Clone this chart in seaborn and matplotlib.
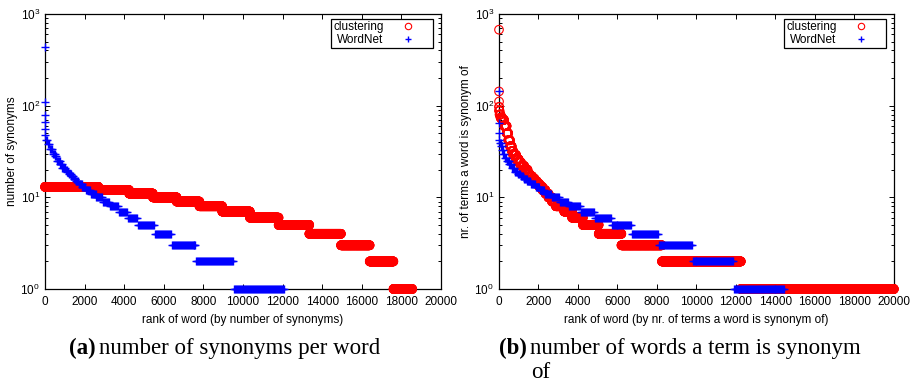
import numpy as np
import pandas as pd
import matplotlib
matplotlib.use("Agg")
import matplotlib.pyplot as plt
import seaborn as sns
from matplotlib.markers import MarkerStyle
from matplotlib.lines import Line2D
from matplotlib.ticker import LogLocator, NullFormatter, FixedLocator

# ---------------- data (value of each run, first rank of each run, end rank) ----
# (a) number of synonyms per word
a_clu_values = [13, 12, 11, 10, 9, 8, 7, 6, 5, 4, 3, 2, 1]
a_clu_starts = [0, 2700, 4250, 5450, 6650, 7800, 8950, 10350, 11800, 13350, 14950, 16400, 17600]
a_clu_end = 18550

a_wn_values = [442, 111, 80, 67, 56, 48, 42, 38, 34, 30, 28, 25, 23, 21, 20, 19, 18,
               17, 16, 15, 14, 13, 12, 11, 10, 9, 8, 7, 6, 5, 4, 3, 2, 1]
a_wn_starts = [0, 1, 2, 3, 5, 20, 50, 150, 250, 380, 500, 600, 760, 880, 1040, 1120, 1210,
               1320, 1440, 1570, 1720, 1880, 2080, 2330, 2600, 2950, 3300, 3750, 4200, 4700,
               5550, 6400, 7650, 9550]
a_wn_end = 12100

# (b) number of words a term is synonym of
b_clu_values = [674, 143, 111, 97, 88, 80, 74, 70, 60, 50, 42, 36, 32, 29, 26, 24, 22, 20,
                18, 17, 16, 15, 14, 13, 12, 11, 10, 9, 8, 7, 6, 5, 4, 3, 2, 1]
b_clu_starts = [0, 1, 2, 4, 10, 30, 80, 160, 260, 390, 470, 560, 650, 720, 870, 1000, 1120,
                1280, 1450, 1550, 1680, 1800, 1920, 2050, 2200, 2350, 2500, 2680, 2880, 3300,
                3700, 4250, 5050, 6200, 8250, 12250]
b_clu_end = 20000

b_wn_values = [143, 65, 50, 42, 39, 36, 33, 30, 27, 25, 23, 21, 19, 18, 17, 16, 15, 14, 13,
               12, 11, 10, 9, 8, 7, 6, 5, 4, 3, 2, 1]
b_wn_starts = [0, 1, 2, 5, 40, 100, 160, 220, 300, 400, 520, 660, 800, 950, 1100, 1250, 1420,
               1620, 1850, 2100, 2350, 2700, 3100, 3550, 4150, 4850, 5700, 6750, 8100, 9800,
               11900]
b_wn_end = 14500

x_ticks = list(range(0, 20001, 2000))
series_labels = ["clustering", "WordNet"]
x_labels = ["rank of word (by number of synonyms)",
            "rank of word (by nr. of terms a word is synonym of)"]
y_labels = ["number of synonyms", "nr. of terms a word is synonym of"]
cap_tags = ["(a)", "(b)"]
cap_a = "number of synonyms per word"
cap_b1 = "number of words a term is synonym"
cap_b2 = "of"


def expand(values, starts, end, stride):
    xs, ys = [], []
    bounds = list(starts[1:]) + [end]
    for v, s, e in zip(values, starts, bounds):
        r = np.arange(s, e, stride)
        xs.append(r)
        ys.append(np.full(r.size, v, dtype=float))
    return pd.DataFrame({"rank": np.concatenate(xs), "value": np.concatenate(ys)})


sns.set_theme(style="ticks")
plt.rcParams["font.family"] = ["Liberation Sans", "DejaVu Sans"]
plt.rcParams["mathtext.default"] = "regular"
plt.rcParams["axes.edgecolor"] = "black"
plt.rcParams["xtick.color"] = "black"
plt.rcParams["ytick.color"] = "black"
plt.rcParams["text.color"] = "black"
plt.rcParams["axes.labelcolor"] = "black"

fig = plt.figure(figsize=(9.2, 3.85), dpi=100)
ax1 = fig.add_axes([45 / 920, 96 / 385, 396 / 920, 275 / 385])
ax2 = fig.add_axes([499 / 920, 96 / 385, 395 / 920, 275 / 385])

RED = "#ff0000"
BLUE = "#0000ff"
circ = MarkerStyle("o", fillstyle="none")
FS = 8.5

panels = [
    (ax1, (a_clu_values, a_clu_starts, a_clu_end), (a_wn_values, a_wn_starts, a_wn_end)),
    (ax2, (b_clu_values, b_clu_starts, b_clu_end), (b_wn_values, b_wn_starts, b_wn_end)),
]

for i, (ax, clu, wn) in enumerate(panels):
    df_c = expand(*clu, stride=5)
    df_w = expand(*wn, stride=50)
    sns.scatterplot(data=df_c, x="rank", y="value", ax=ax, marker=circ, s=38,
                    color=RED, linewidth=0.8, clip_on=False, legend=False, zorder=3)
    sns.scatterplot(data=df_w, x="rank", y="value", ax=ax, marker="+", s=40,
                    color=BLUE, linewidth=1.0, clip_on=False, legend=False, zorder=4)
    ax.set_yscale("log")
    ax.set_xlim(0, 20000)
    ax.set_ylim(1, 1000)
    ax.xaxis.set_major_locator(FixedLocator(x_ticks))
    ax.set_xticklabels([str(t) for t in x_ticks])
    ax.yaxis.set_major_locator(LogLocator(base=10, numticks=10))
    ax.yaxis.set_minor_locator(LogLocator(base=10, subs=np.arange(2, 10), numticks=20))
    ax.yaxis.set_minor_formatter(NullFormatter())
    ax.tick_params(which="both", direction="in", top=True, right=True, width=0.7,
                   labelsize=FS)
    ax.tick_params(which="major", length=3.8)
    ax.tick_params(which="minor", length=2.0)
    ax.tick_params(axis="x", which="major", pad=5)
    ax.tick_params(axis="y", which="major", pad=3.6)
    for sp in ax.spines.values():
        sp.set_linewidth(0.9)
        sp.set_color("black")
        sp.set_zorder(2)
    ax.set_xlabel(x_labels[i], fontsize=FS, labelpad=4)
    ax.set_ylabel(y_labels[i], fontsize=FS, labelpad=1.8)
    ax.set_facecolor("white")
    handles = [Line2D([], [], linestyle="none", marker="o", markerfacecolor="none",
                      markeredgecolor=RED, markersize=4.6, markeredgewidth=0.8),
               Line2D([], [], linestyle="none", marker="+", color=BLUE,
                      markersize=4.6, markeredgewidth=1.0)]
    leg = ax.legend(handles, series_labels, loc="upper right",
                    bbox_to_anchor=(1 - 8 / 396, 1 - 5 / 275), borderaxespad=0,
                    markerfirst=False, fontsize=FS, frameon=True, fancybox=False,
                    edgecolor="black", framealpha=1, borderpad=0.2,
                    labelspacing=0.05, handletextpad=0.1, handlelength=3.9)
    leg.get_frame().set_linewidth(0.9)
    leg.set_zorder(6)

# captions
serif = ["Liberation Serif", "DejaVu Serif"]
CFS = 16.5
yb1 = 1 - 354 / 385
yb2 = 1 - 378 / 385
fig.text(96 / 920, yb1, cap_tags[0], ha="right", va="baseline", fontsize=CFS,
         family=serif, weight="bold")
fig.text(99 / 920, yb1, cap_a, ha="left", va="baseline", fontsize=CFS, family=serif)
fig.text(527 / 920, yb1, cap_tags[1], ha="right", va="baseline", fontsize=CFS,
         family=serif, weight="bold")
fig.text(530 / 920, yb1, cap_b1, ha="left", va="baseline", fontsize=CFS, family=serif)
fig.text(531 / 920, yb2, cap_b2, ha="left", va="baseline", fontsize=CFS, family=serif)

fig.savefig("out.png", dpi=100, facecolor="white")
